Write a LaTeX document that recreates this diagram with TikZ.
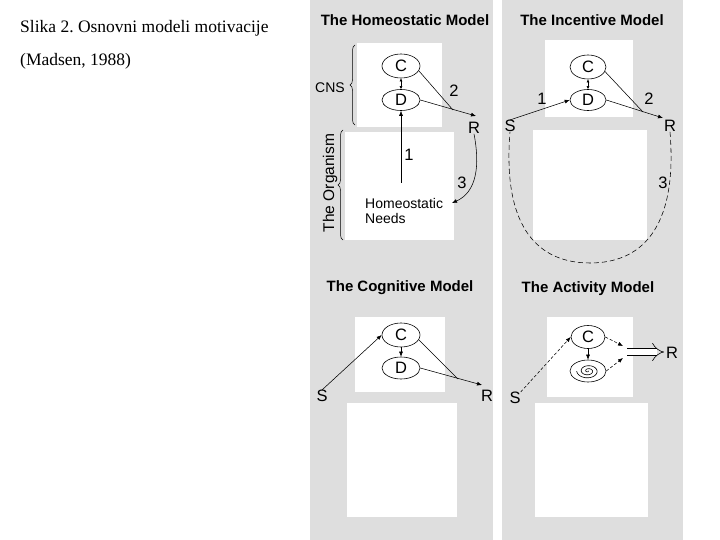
\documentclass[tikz,border=0pt]{standalone}
\usepackage{fontspec}
\setmainfont{Liberation Sans}
\newfontfamily\capfont{Liberation Serif}
\usetikzlibrary{arrows.meta,decorations.pathreplacing,shapes.geometric}
\frenchspacing
\begin{document}
\begin{tikzpicture}[x=1pt,y=-1pt,
  ell/.style={draw, ellipse, inner sep=0pt, line width=0.6pt, font=\fontsize{16.5}{17}\selectfont},
  lbl/.style={inner sep=0pt, font=\fontsize{16.5}{17}\selectfont},
  ttl/.style={inner sep=0pt, font=\bfseries\fontsize{15}{15}\selectfont},
  captxt/.style={inner sep=0pt, anchor=base west, font=\capfont\fontsize{17.5}{18}\selectfont},
  con/.style={line width=0.55pt},
  tip/.style={-{Latex[length=5pt,width=4pt]}},
  twotip/.style={{Latex[length=3pt,width=3pt]}-{Latex[length=3pt,width=3pt]}},
  brc/.style={decorate, decoration={brace, amplitude=5pt}, line width=0.5pt},
  half/.style={fill=black!13},
  ]
\useasboundingbox (0,0) rectangle (720,540);
\fill[white] (0,0) rectangle (720,540);
% halftone background of the scanned figure
\fill[half] (310,0) rectangle (493,540);
\fill[half] (502,0) rectangle (683,540);
\fill[white] (357,43) rectangle (442,127);
\fill[white] (345,132) rectangle (454,240);
\fill[white] (545,40) rectangle (633,117);
\fill[white] (533,130) rectangle (647,240);
\fill[white] (355,317) rectangle (445,392);
\fill[white] (347,403) rectangle (457,517);
\fill[white] (547,317) rectangle (633,397);
\fill[white] (535,403) rectangle (648,517);

% caption
\node[captxt] (cap1) at (20,33) {Slika 2. Osnovni modeli motivacije};
\node[captxt] (cap2) at (20,66) {(Madsen, 1988)};

% ---------- Homeostatic model ----------
\node[ttl] (hT) at (405,20) {The Homeostatic Model};
\node[ell, minimum width=38pt, minimum height=24pt] (hC) at (401,66) {C};
\node[ell, minimum width=38pt, minimum height=21pt] (hD) at (401,100) {D};
\node[lbl, font=\fontsize{14}{15}\selectfont] (hCNS) at (330,88) {CNS};
\node[lbl, rotate=90, font=\fontsize{15.5}{16}\selectfont] (hOrg) at (330,183) {The Organism};
\node[lbl] (hR) at (474,128) {R};
\node[lbl, align=left, anchor=north west, font=\fontsize{14}{15}\selectfont] (hN) at (365,198) {Homeostatic\\Needs};
\coordinate (hB1a) at (355,125);
\coordinate (hB1b) at (355,45);
\coordinate (hB2a) at (343,240);
\coordinate (hB2b) at (343,130);
\coordinate (hRt) at (476,116);
\coordinate (hM) at (453,110);
\coordinate (hN1) at (401,183);
\coordinate (hN3) at (452,203);
\draw[brc] (hB1a) -- (hB1b);
\draw[brc] (hB2a) -- (hB2b);
\draw[con, twotip] (hC.south) -- (hD.north);
\draw[con] (hC.-15) -- (hM);
\draw[con, tip] (hD.east) -- (hRt);
\draw[con, tip] (hN1) -- (hD.south);
\draw[con, tip] (hR.south) .. controls (480,165) and (477,192) .. (hN3);
\node[lbl] (h2) at (454,91) {2};
\node[lbl] (h1) at (409,155) {1};
\node[lbl] (h3) at (462,183) {3};

% ---------- Incentive model ----------
\node[ttl] (iT) at (592,20) {The Incentive Model};
\node[ell, minimum width=36pt, minimum height=24pt] (iC) at (588,67) {C};
\node[ell, minimum width=36pt, minimum height=21pt] (iD) at (588,100) {D};
\node[lbl] (iS) at (510,126) {S};
\node[lbl] (iR) at (670,126) {R};
\coordinate (iRt) at (663,118);
\coordinate (iM) at (643,112);
\coordinate (iBot) at (590,263);
\draw[con, twotip] (iC.south) -- (iD.north);
\draw[con, tip] (iS.north) -- (iD.west);
\draw[con] (iC.-15) -- (iM);
\draw[con, tip] (iD.east) -- (iRt);
\draw[con, dash pattern=on 5pt off 3pt] (iR.south) .. controls (678,230) and (640,263) .. (iBot)
   .. controls (540,263) and (502,230) .. (iS.south);
\node[lbl] (i1) at (542,99) {1};
\node[lbl] (i2) at (649,99) {2};
\node[lbl] (i3) at (663,183) {3};

% ---------- Cognitive model ----------
\node[ttl] (cT) at (400,288) {The Cognitive Model};
\node[ell, minimum width=38pt, minimum height=24pt] (cC) at (401,335) {C};
\node[ell, minimum width=38pt, minimum height=22pt] (cD) at (401,368) {D};
\node[lbl] (cS) at (322,396) {S};
\node[lbl] (cR) at (487,396) {R};
\coordinate (cRt) at (482,385);
\coordinate (cM) at (458,379);
\draw[con, tip] (cS.north) -- (cC.west);
\draw[con, tip] (cC.south) -- (cD.north);
\draw[con] (cC.-15) -- (cM);
\draw[con, tip] (cD.east) -- (cRt);

% ---------- Activity model ----------
\node[ttl] (aT) at (588,289) {The Activity Model};
\node[ell, minimum width=34pt, minimum height=23pt] (aC) at (588,337) {C};
\node[ell, minimum width=36pt, minimum height=22pt] (aSp) at (588,371) {};
\node[lbl] (aS) at (515,398) {S};
\node[lbl] (aR) at (672,353) {R};
\coordinate (aT1) at (623,346);
\coordinate (aT2) at (623,358);
\coordinate (aA1) at (627,352);
\coordinate (aA2) at (664,352);
\draw[con, tip, dash pattern=on 3pt off 2pt] (aS.north east) -- (aC.west);
\draw[con, tip] (aC.south) -- (aSp.north);
\draw[con, tip, dash pattern=on 3pt off 2pt] (aC.east) -- (aT1);
\draw[con, tip, dash pattern=on 3pt off 2pt] (aSp.east) -- (aT2);
\draw[line width=0.6pt, double, double distance=6pt, -{Implies}] (aA1) -- (aA2);
\draw[line width=0.6pt, shift={(aSp.center)}]
  plot[domain=0:15.7, samples=120, smooth, variable=\t] ({0.72*\t*cos(\t r)}, {0.48*\t*sin(\t r)});
\end{tikzpicture}
\end{document}
